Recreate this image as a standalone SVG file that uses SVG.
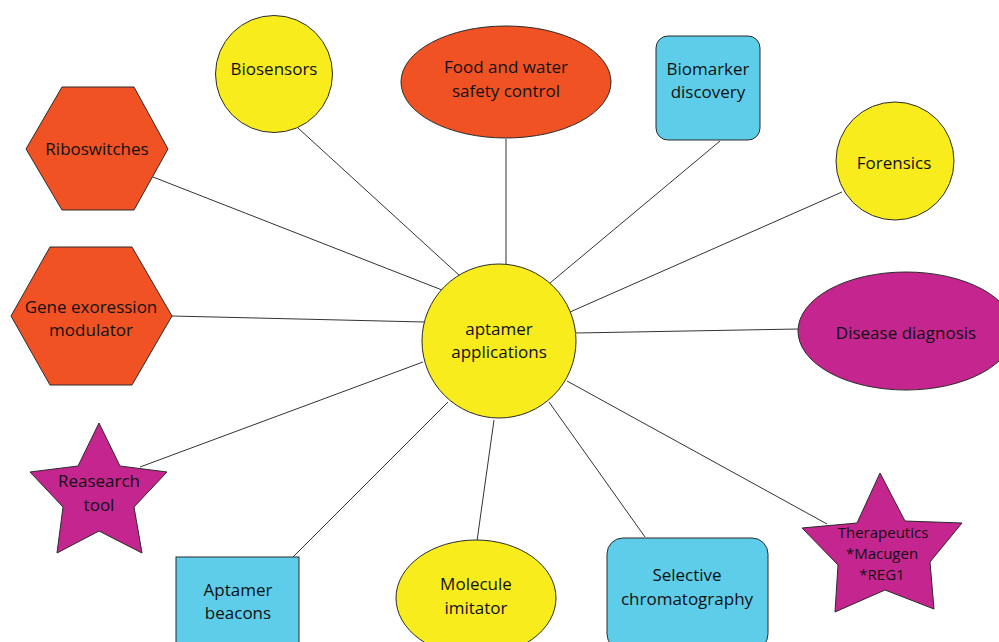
<svg xmlns="http://www.w3.org/2000/svg" width="999" height="642" viewBox="0 0 999 642">
<style>
.s{stroke:#2b2b2b;stroke-width:1}
.y{fill:#f8ec1d}
.o{fill:#f05223}
.b{fill:#5ecdea}
.m{fill:#c4258e}
text{font-family:"Open Sans","Liberation Sans",sans-serif;font-size:17px;fill:#111;text-anchor:middle}
.sm{font-size:15px}
#connectors line{stroke:#333;stroke-width:1}
</style>
<rect width="999" height="642" fill="#fff"/>
<g id="connectors">
<line x1="153" y1="177" x2="442" y2="290"/>
<line x1="298" y1="128" x2="460" y2="276"/>
<line x1="506" y1="139" x2="506" y2="265"/>
<line x1="720" y1="141" x2="550" y2="283"/>
<line x1="842" y1="192" x2="570" y2="312"/>
<line x1="798" y1="329" x2="576" y2="333"/>
<line x1="172" y1="316" x2="424" y2="322"/>
<line x1="140" y1="467" x2="423" y2="362"/>
<line x1="293" y1="557" x2="448" y2="402"/>
<line x1="494" y1="420" x2="477" y2="541"/>
<line x1="549" y1="402" x2="645" y2="537"/>
<line x1="567" y1="381" x2="827" y2="524"/>
</g>
<g id="center">
<circle class="s y" cx="499" cy="341" r="77"/>
<text x="499" y="335">aptamer</text>
<text x="499" y="358">applications</text>
</g>
<g id="biosensors">
<circle class="s y" cx="274" cy="74" r="58.5"/>
<text x="274" y="75">Biosensors</text>
</g>
<g id="food">
<ellipse class="s o" cx="506" cy="82" rx="105" ry="56"/>
<text x="506" y="73">Food and water</text>
<text x="506" y="97">safety control</text>
</g>
<g id="biomarker">
<rect class="s b" x="656" y="36" width="104" height="104" rx="12"/>
<text x="708" y="75">Biomarker</text>
<text x="708" y="98">discovery</text>
</g>
<g id="forensics">
<circle class="s y" cx="895" cy="161" r="59"/>
<text x="894" y="169">Forensics</text>
</g>
<g id="disease">
<ellipse class="s m" cx="906" cy="331" rx="108" ry="59"/>
<text x="906" y="339">Disease diagnosis</text>
</g>
<g id="therapeutics">
<polygon class="s m" points="880,473 905,521 962,523 930,562 934,609 885,590 835,612 838,565 802,528 857,523"/>
<text class="sm" x="883" y="538">Therapeutics</text>
<text class="sm" x="882" y="559">*Macugen</text>
<text class="sm" x="882" y="580">*REG1</text>
</g>
<g id="selective">
<rect class="s b" x="607" y="538" width="161" height="112" rx="16"/>
<text x="687" y="581">Selective</text>
<text x="687" y="605">chromatography</text>
</g>
<g id="molecule">
<ellipse class="s y" cx="476" cy="598" rx="80" ry="58"/>
<text x="476" y="590">Molecule</text>
<text x="476" y="614">imitator</text>
</g>
<g id="beacons">
<rect class="s b" x="176" y="557" width="123" height="95"/>
<text x="238" y="596">Aptamer</text>
<text x="238" y="619">beacons</text>
</g>
<g id="research">
<polygon class="s m" points="99,423 120,466 167,472 134,507 142,553 99,531 57,553 63,507 30,472 78,466"/>
<text x="99" y="487">Reasearch</text>
<text x="99" y="511">tool</text>
</g>
<g id="gene">
<polygon class="s o" points="50,247 132,247 172,316 132,385 50,385 11,316"/>
<text x="91" y="313">Gene exoression</text>
<text x="91" y="336">modulator</text>
</g>
<g id="riboswitches">
<polygon class="s o" points="62,87 134,87 168,149 134,210 62,210 26,149"/>
<text x="97" y="155">Riboswitches</text>
</g>
</svg>
